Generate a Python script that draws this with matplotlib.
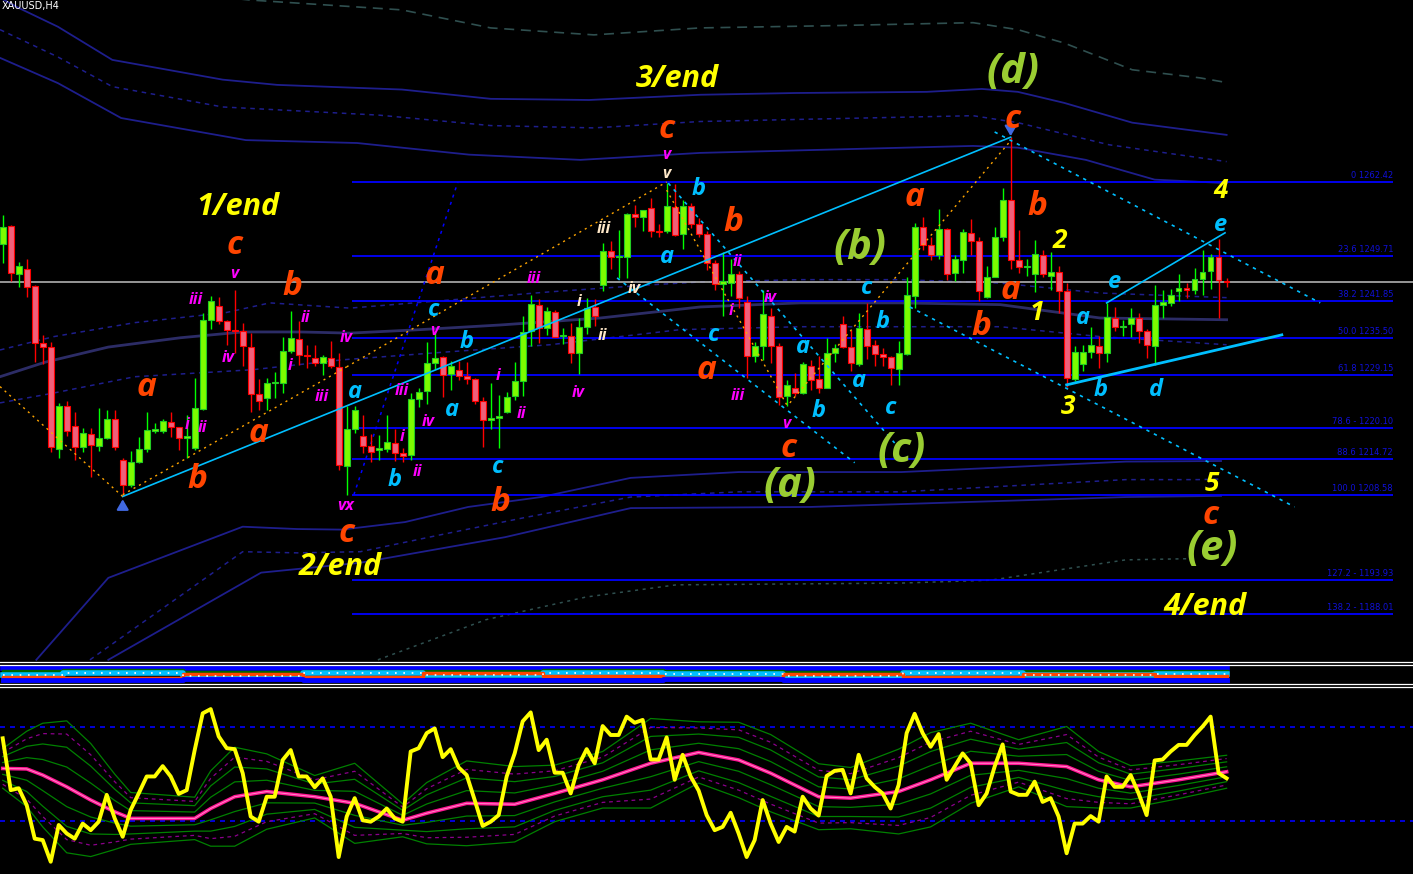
import matplotlib
matplotlib.use('Agg')
import matplotlib.pyplot as plt
import numpy as np
from matplotlib.lines import Line2D

# ---------------- data ----------------
opens = [1251.7,1254.9,1246.6,1247.4,1244.5,1234.7,1234.0,1216.5,1223.9,1220.5,
         1216.8,1219.0,1216.9,1218.3,1221.6,1214.6,1210.2,1214.3,1216.4,1219.6,
         1219.5,1221.1,1220.2,1218.3,1216.6,1223.3,1238.7,1241.1,1238.5,1236.8,
         1236.7,1234.0,1225.9,1225.2,1227.8,1227.9,1233.4,1235.4,1232.7,1232.2,
         1231.2,1232.1,1230.5,1213.6,1219.9,1218.7,1217.0,1216.3,1216.5,1217.5,
         1215.8,1215.5,1225.1,1226.4,1231.2,1232.3,1229.4,1230.1,1229.1,1228.5,
         1224.8,1221.4,1221.8,1222.9,1225.5,1228.1,1236.7,1241.2,1237.3,1240.0,
         1235.9,1235.9,1233.0,1237.4,1240.9,1244.6,1250.6,1249.5,1249.5,1256.9,
         1256.4,1257.9,1254.0,1253.9,1258.1,1253.4,1258.2,1255.1,1253.4,1248.4,
         1244.8,1245.1,1246.6,1241.7,1232.4,1234.1,1239.4,1234.2,1225.5,1226.9,
         1226.1,1230.8,1228.5,1227.0,1233.0,1237.9,1234.0,1231.1,1237.1,1234.3,
         1232.8,1232.3,1230.2,1232.8,1242.7,1254.6,1251.5,1249.8,1254.3,1246.7,
         1248.9,1253.6,1252.2,1242.6,1246.1,1253.0,1259.3,1248.9,1247.7,1246.5,
         1249.9,1246.3,1246.9,1243.6,1228.5,1231.1,1233.2,1234.2,1233.0,1239.0,
         1237.4,1237.9,1239.0,1236.7,1234.1,1241.2,1241.6,1243.6,1244.0,1243.9,
         1245.7,1247.0,1249.5,1245.3]
highs = [1256.7,1255.0,1248.7,1249.1,1244.7,1236.1,1234.8,1224.3,1224.8,1222.9,
         1220.0,1220.0,1223.5,1223.2,1223.2,1214.9,1216.2,1218.6,1222.9,1220.9,
         1221.6,1222.9,1220.3,1222.3,1228.6,1239.9,1242.7,1242.6,1238.7,1243.8,
         1238.1,1236.4,1228.5,1228.6,1229.7,1235.7,1240.2,1238.4,1234.3,1234.3,
         1232.7,1235.1,1232.9,1223.8,1223.8,1222.3,1219.1,1218.9,1222.3,1219.9,
         1216.6,1226.1,1226.9,1234.8,1236.7,1232.4,1231.6,1231.6,1231.5,1228.7,
         1225.4,1227.8,1225.8,1226.2,1231.5,1239.4,1243.0,1242.2,1240.9,1240.4,
         1237.3,1238.1,1239.0,1242.4,1242.2,1251.9,1252.2,1254.2,1257.0,1258.4,
         1257.6,1259.6,1255.1,1262.3,1262.1,1259.3,1258.8,1256.2,1253.9,1249.0,
         1250.4,1249.1,1247.0,1242.7,1234.8,1243.9,1240.7,1234.7,1228.3,1229.5,
         1231.5,1231.7,1232.5,1235.5,1234.6,1239.3,1237.0,1239.8,1241.6,1235.3,
         1233.8,1232.4,1235.1,1246.1,1255.3,1256.4,1253.0,1257.7,1254.5,1249.9,
         1254.3,1256.0,1253.0,1247.9,1254.6,1261.3,1270.1,1254.2,1249.1,1252.4,
         1250.7,1250.4,1248.0,1245.0,1234.2,1234.4,1237.4,1235.9,1241.6,1240.9,
         1238.7,1240.7,1239.8,1237.1,1244.7,1243.9,1244.0,1246.6,1245.1,1247.6,
         1250.7,1250.0,1252.6,1245.8]
lows = [1248.4,1245.3,1244.3,1242.6,1231.5,1231.1,1215.9,1215.0,1218.7,1214.6,
        1216.0,1211.7,1216.2,1218.2,1216.3,1208.3,1210.0,1214.0,1216.0,1219.2,
        1219.2,1218.6,1216.3,1215.0,1216.3,1223.1,1237.1,1238.0,1234.4,1232.9,
        1230.7,1222.9,1223.2,1223.2,1225.2,1226.1,1232.9,1230.9,1230.4,1230.7,
        1229.2,1230.4,1212.9,1208.6,1219.2,1215.8,1214.3,1214.5,1216.0,1214.4,
        1214.3,1214.6,1223.7,1224.2,1230.2,1225.4,1226.6,1228.3,1227.7,1224.2,
        1216.8,1219.9,1216.6,1222.6,1224.9,1225.6,1234.1,1234.7,1236.1,1235.7,
        1234.6,1231.2,1229.3,1236.3,1237.7,1243.7,1247.4,1245.9,1245.9,1254.7,
        1253.9,1252.9,1252.9,1253.7,1253.1,1250.8,1254.5,1253.0,1247.3,1243.9,
        1239.4,1242.7,1240.7,1228.7,1231.5,1231.8,1231.2,1224.1,1223.8,1225.5,
        1226.0,1226.6,1226.1,1226.9,1231.5,1233.8,1229.8,1230.7,1231.9,1230.7,
        1230.7,1227.4,1227.5,1232.7,1240.7,1250.7,1249.0,1249.1,1245.6,1245.3,
        1246.7,1249.8,1242.0,1242.5,1246.0,1252.2,1247.5,1246.7,1246.2,1243.4,
        1246.1,1243.9,1239.8,1227.2,1228.2,1229.8,1232.1,1230.4,1231.5,1236.7,
        1235.9,1235.7,1234.7,1232.1,1230.9,1239.0,1241.1,1242.0,1242.4,1243.2,
        1243.0,1244.0,1239.0,1244.4]
closes = [1254.7,1246.7,1248.0,1244.4,1234.7,1234.0,1216.8,1223.9,1219.6,1216.8,
          1219.2,1217.1,1218.4,1221.6,1216.8,1210.3,1214.2,1216.4,1219.8,1219.9,
          1221.3,1220.2,1218.3,1218.7,1223.5,1238.7,1241.9,1238.4,1237.0,1236.7,
          1234.1,1225.9,1224.7,1227.8,1227.9,1233.3,1235.5,1232.7,1232.5,1231.2,
          1232.3,1230.7,1213.7,1219.9,1223.2,1216.9,1216.0,1216.6,1217.6,1215.8,
          1215.2,1225.1,1226.2,1231.2,1232.1,1229.2,1230.8,1229.1,1228.5,1224.8,
          1221.5,1221.8,1222.2,1225.4,1228.2,1236.6,1241.4,1237.3,1240.2,1235.7,
          1236.0,1233.0,1237.4,1240.7,1239.3,1250.6,1249.5,1249.6,1256.9,1256.4,
          1257.6,1254.0,1253.8,1258.3,1253.3,1258.3,1255.2,1253.4,1248.4,1244.8,
          1245.3,1246.6,1242.4,1232.4,1234.1,1239.7,1234.1,1225.4,1227.5,1226.1,
          1231.1,1228.3,1226.9,1233.0,1233.8,1234.0,1231.3,1237.3,1234.1,1232.8,
          1232.3,1230.4,1233.0,1242.9,1254.6,1251.5,1249.9,1254.3,1246.5,1249.1,
          1253.8,1252.3,1243.7,1246.0,1253.0,1259.3,1248.9,1247.8,1247.9,1250.0,
          1246.5,1246.9,1243.6,1228.7,1233.2,1233.1,1234.3,1233.0,1239.1,1237.5,
          1237.7,1239.0,1236.7,1234.3,1241.2,1241.7,1242.9,1244.1,1243.9,1245.7,
          1246.9,1249.5,1245.6,1245.2]

bid_price = 1245.2

fib_prices = [1262.42, 1249.71, 1241.85, 1235.50, 1229.15, 1220.10, 1214.72, 1208.58, 1193.93, 1188.01]
fib_labels = ['0 1262.42', '23.6 1249.71', '38.2 1241.85', '50.0 1235.50', '61.8 1229.15',
              '78.6 - 1220.10', '88.6 1214.72', '100.0 1208.58', '127.2 - 1193.93', '138.2 - 1188.01']

# envelope bands: (candle index, price) vertices
band_u0_k = [18.4, 30.9, 49.9, 61.0, 73.9, 87.2, 104.2, 121.3, 126.9, 132.7, 141.2, 149.7, 153]
band_u0_p = [1295.4, 1293.7, 1292.0, 1288.9, 1287.7, 1288.9, 1289.3, 1289.8, 1288.6, 1286.3, 1281.7, 1280.3, 1279.5]
band_u1_k = [-0.34, 1.9, 6.9, 13.7, 27.5, 34.3, 49.9, 61.0, 73.3, 87.2, 99.0, 115.5, 122.4, 126.9, 132.7, 141.2, 153]
band_u1_p = [1294.1, 1292.4, 1289.1, 1283.4, 1280.0, 1279.1, 1278.3, 1276.7, 1276.5, 1277.4, 1277.7, 1277.9, 1278.4, 1277.9, 1276.0, 1272.6, 1270.5]
band_u2_k = [-0.34, 6.9, 13.7, 27.5, 47.0, 61.0, 73.9, 87.2, 121.3, 126.9, 138.3, 153]
band_u2_p = [1288.6, 1283.9, 1278.8, 1275.3, 1273.9, 1272.1, 1271.7, 1272.8, 1273.8, 1272.6, 1268.8, 1265.9]
band_u3_k = [-0.34, 6.9, 14.8, 30.4, 44.3, 58.3, 72.2, 87.2, 121.3, 126.9, 135.4, 144.0, 153]
band_u3_p = [1283.75, 1279.4, 1273.4, 1269.6, 1269.1, 1267.1, 1266.2, 1267.4, 1268.6, 1268.3, 1266.2, 1262.8, 1262.2]
band_mid_k = [-0.34, 5.3, 13.2, 22.2, 30.0, 37.2, 43.4, 52.2, 62.2, 74.7, 87.2, 99.7, 112.2, 124.7, 137.2, 153]
band_mid_p = [1228.9, 1231.4, 1234.0, 1235.6, 1236.6, 1236.6, 1236.4, 1237.0, 1237.8, 1239.0, 1240.9, 1241.6, 1241.6, 1241.3, 1239.0, 1238.7]
band_iu_k = [-0.34, 6.4, 16.5, 27.8, 33.4, 43.4, 55.9, 68.4, 80.9, 87.2, 99.7, 112.2, 124.7, 137.2, 153]
band_iu_p = [1233.5, 1235.8, 1238.2, 1239.9, 1241.6, 1240.7, 1242.1, 1243.5, 1244.7, 1245.2, 1245.6, 1245.6, 1245.0, 1243.3, 1242.5]
band_il_k = [-0.34, 6.4, 16.5, 31.2, 42.4, 55.9, 68.4, 84.7, 99.7, 124.7, 137.2, 153]
band_il_p = [1224.4, 1226.1, 1228.9, 1230.1, 1231.8, 1233.2, 1234.4, 1237.0, 1237.5, 1237.5, 1235.8, 1234.4]
band_l1_k = [4.2, 13.2, 30.0, 36.8, 42.4, 50.3, 58.2, 67.3, 78.5, 92.0, 112.3, 123.5, 140.4, 152.3]
band_l1_p = [1180.2, 1194.3, 1203.1, 1202.7, 1202.6, 1203.9, 1206.5, 1208.2, 1211.5, 1212.5, 1212.5, 1213.2, 1214.3, 1214.4]
band_l2_k = [10.9, 30.0, 36.8, 44.7, 54.7, 65.0, 78.5, 92.0, 112.3, 140.4, 149.4, 152.3]
band_l2_p = [1180.2, 1198.8, 1198.6, 1198.8, 1201.7, 1204.6, 1208.2, 1209.1, 1209.1, 1211.2, 1211.2, 1211.3]
band_l3_k = [13.2, 32.3, 44.7, 62.8, 78.5, 101.0, 140.4, 152.3]
band_l3_p = [1180.2, 1195.2, 1196.9, 1201.3, 1206.3, 1206.5, 1208.2, 1208.4]
band_l4_k = [46.9, 60.4, 72.9, 84.2, 112.3, 123.5, 140.4, 148.3]
band_l4_p = [1180.2, 1187.1, 1191.0, 1193.1, 1193.4, 1193.9, 1197.4, 1197.6]

# trend lines: ((k0, p0), (k1, p1))
cyan_solid = [((15, 1208.3), (126, 1270.1)), ((138.0, 1241.6), (152.8, 1253.65))]
cyan_thick = [((133.0, 1227.5), (159.9, 1236.1))]
cyan_dotted = [((124.0, 1271.0), (164.7, 1241.6)), ((113.4, 1240.9), (161.5, 1206.5)),
               ((83.2, 1262.2), (111.5, 1217.5)), ((76.8, 1245.9), (106.5, 1214.1))]
orange_dotted = [((-0.34, 1227.2), (15, 1208.3)), ((15, 1208.6), (43, 1230.6)),
                 ((43, 1230.6), (83, 1262.4)), ((83, 1261.0), (98, 1224.1)),
                 ((98.4, 1224.4), (126, 1269.5))]
blue_dotted = [((43.9, 1208.6), (56.9, 1262.4))]

# wave labels: (text, candle index, price)
yellow_big = [('1/end', 29.4, 1258.1), ('3/end', 84.3, 1280.1), ('2/end', 42.2, 1196.2), ('4/end', 150.3, 1189.3)]
yellow_digits = [('4', 152.2, 1261.0), ('2', 132.2, 1252.4), ('1', 129.3, 1240.0), ('3', 133.2, 1223.7), ('5', 151.2, 1210.5)]
green_labels = [('(d)', 126.3, 1281.2), ('(b)', 107.2, 1250.9), ('(a)', 98.4, 1210.0), ('(c)', 112.4, 1216.0), ('(e)', 151.2, 1199.1)]
orange_labels = [('c', 29.0, 1251.4), ('b', 36.2, 1244.4), ('a', 18.0, 1227.0), ('a', 32.0, 1219.2),
                 ('b', 24.3, 1211.2), ('c', 43.0, 1202.0), ('a', 54.0, 1246.3), ('b', 62.2, 1207.2),
                 ('c', 83.0, 1271.5), ('b', 91.3, 1255.5), ('a', 88.0, 1229.9), ('c', 98.2, 1216.5),
                 ('a', 114.0, 1259.7), ('c', 126.2, 1273.1), ('b', 129.3, 1258.1), ('a', 126.0, 1243.8),
                 ('b', 122.3, 1237.5), ('c', 151.0, 1205.1)]
sky_labels = [('c', 53.9, 1240.4), ('b', 58.0, 1234.9), ('a', 44.0, 1226.3), ('a', 56.2, 1223.2),
              ('b', 49.0, 1211.2), ('c', 61.9, 1213.4), ('a', 83.0, 1249.5), ('b', 87.0, 1261.2),
              ('c', 88.9, 1236.1), ('a', 100.0, 1234.0), ('b', 102.0, 1223.0), ('c', 108.0, 1244.2),
              ('b', 110.0, 1238.3), ('a', 107.0, 1228.2), ('c', 111.0, 1223.5), ('e', 139.0, 1245.2),
              ('a', 135.0, 1239.0), ('b', 137.2, 1226.6), ('d', 144.2, 1226.6), ('e', 152.2, 1255.0)]
magenta_labels = [('iii', 24.2, 1242.1), ('v', 29.0, 1246.6), ('ii', 37.9, 1239.0), ('iv', 28.2, 1232.1),
                  ('i', 23.0, 1220.6), ('ii', 25.0, 1220.1), ('iv', 43.0, 1235.6), ('i', 35.9, 1230.8),
                  ('iii', 39.9, 1225.4), ('iii', 66.4, 1245.7), ('v', 54.0, 1236.8), ('i', 61.9, 1229.0),
                  ('iii', 49.9, 1226.5), ('iv', 53.2, 1221.1), ('ii', 64.9, 1222.5), ('i', 49.9, 1218.6),
                  ('ii', 51.9, 1212.5), ('iv', 72.0, 1226.1), ('vx', 42.9, 1206.7), ('v', 83.0, 1267.1),
                  ('ii', 91.9, 1248.6), ('i', 91.0, 1240.2), ('iv', 95.9, 1242.5), ('iii', 91.9, 1225.6),
                  ('v', 98.0, 1220.8)]
cream_labels = [('v', 83.0, 1263.8), ('iii', 75.2, 1254.3), ('i', 72.0, 1241.8), ('ii', 75.0, 1235.9), ('iv', 79.0, 1244.0)]

# oscillator (lower panel)
osc = [75,-35,-31,-67,-138,-141,-187,-109,-127,-138,-106,-120,-102,-45,-95,-134,-77,-42,-6,-6,
       16,-6,-43,-35,50,128,137,79,54,52,1,-91,-102,-49,-49,29,50,-6,-6,-29,
       -10,-49,-177,-91,-52,-99,-102,-91,-74,-95,-102,47,54,86,96,35,52,13,-3,-56,
       -111,-102,-88,-6,43,111,130,50,72,2,2,-42,18,52,22,101,82,82,121,108,
       114,30,30,77,-13,40,-6,-36,-88,-120,-113,-83,-127,-177,-141,-56,-106,-145,-113,-123,
       -49,-74,-89,-5,6,8,-42,40,-10,-28,-42,-74,-24,86,127,86,57,84,-13,15,
       43,22,-67,-42,15,62,-38,-45,-45,-17,-60,-52,-91,-169,-106,-106,-90,-102,-6,-28,
       -28,-3,-42,-88,28,30,47,61,61,82,100,121,1,-10]
osc_levels = [100, -100]
sig_k = [0,3,5,8,11,14,16,24,26,29,33,39,44,50,53,58,64,69,75,81,87,92,96,102,106,112,116,121,127,133,137,141,147,153]
sig_v = [11,10,-3,-28,-56,-81,-95,-95,-74,-49,-38,-49,-63,-99,-84,-63,-65,-42,-13,22,45,29,1,-49,-52,-38,-13,22,22,15,-13,-28,-13,4]
sig_w = [42,80,110,140,120,80,55,45,80,105,80,45,85,35,65,90,80,60,60,95,65,80,82,70,65,90,100,85,50,85,60,45,40,35]
green_mult = [1.0, 0.6, 0.3]
purple_mult = [0.8]

# small strip panel
strip_k = [0, 15, 30, 45, 60, 75, 90, 105, 120, 135, 153]
strip_blue_top = [0.84, 0.86, 0.82, 0.84, 0.82, 0.85, 0.82, 0.83, 0.84, 0.82, 0.82]
strip_green = [0.66, 0.70, 0.62, 0.68, 0.64, 0.70, 0.65, 0.61, 0.68, 0.64, 0.64]
strip_cyan = [0.45, 0.55, 0.40, 0.58, 0.45, 0.55, 0.50, 0.40, 0.58, 0.45, 0.52]
strip_red = [0.35, 0.30, 0.50, 0.36, 0.55, 0.40, 0.30, 0.52, 0.36, 0.48, 0.40]
strip_blue_bot = [0.18, 0.15, 0.20, 0.16, 0.18, 0.15, 0.20, 0.16, 0.18, 0.16, 0.18]

# ---------------- drawing ----------------
W, H = 1413, 874
fig = plt.figure(figsize=(W / 100, H / 100), dpi=100, facecolor='black')

def band_axes(top, bottom):
    return fig.add_axes([0, 1 - bottom / H, 1, (bottom - top) / H])

ax = band_axes(0, 661)
ax_strip = band_axes(665, 683)
ax_osc = band_axes(686, 874)
XLIM = (-0.34, 176.3)
for a in (ax, ax_strip, ax_osc):
    a.set_facecolor('black')
    a.set_axis_off()
    a.set_xlim(*XLIM)
ax.set_ylim(1180.0, 1293.7)
ax_strip.set_ylim(0, 1)
ax_osc.set_ylim(-213, 186)

for yy in (662, 664.5, 684, 686.5):
    fig.add_artist(Line2D([0, 1], [1 - yy / H] * 2, color='white', lw=0.9, transform=fig.transFigure))

NAVY = '#1e1e8c'
ax.plot(band_u0_k, band_u0_p, color='#2f4f4f', lw=1.2, ls=(0, (6, 4)), zorder=1)
ax.plot(band_u1_k, band_u1_p, color=NAVY, lw=1.3, zorder=1)
ax.plot(band_u2_k, band_u2_p, color=NAVY, lw=1.1, ls=(0, (3, 3)), zorder=1)
ax.plot(band_u3_k, band_u3_p, color=NAVY, lw=1.3, zorder=1)
ax.plot(band_mid_k, band_mid_p, color='#2c2c66', lw=2.0, zorder=1)
ax.plot(band_iu_k, band_iu_p, color=NAVY, lw=1.1, ls=(0, (3, 3)), zorder=1)
ax.plot(band_il_k, band_il_p, color=NAVY, lw=1.1, ls=(0, (3, 3)), zorder=1)
ax.plot(band_l1_k, band_l1_p, color=NAVY, lw=1.3, zorder=1)
ax.plot(band_l2_k, band_l2_p, color=NAVY, lw=1.1, ls=(0, (3, 3)), zorder=1)
ax.plot(band_l3_k, band_l3_p, color=NAVY, lw=1.3, zorder=1)
ax.plot(band_l4_k, band_l4_p, color='#2f4f4f', lw=1.1, ls=(0, (2, 3)), zorder=1)

# fibonacci levels
ax.hlines(fib_prices, 43.7, 173.8, color='#0000ff', lw=1.3, zorder=2)
for p, lab in zip(fib_prices, fib_labels):
    ax.text(173.8, p + 0.35, lab, color='#1010d8', fontsize=6, ha='right', va='bottom',
            family='DejaVu Sans', zorder=2)

# bid line
ax.axhline(bid_price, color='#b0b0b0', lw=1.2, zorder=2)

# trend lines
for (k0, p0), (k1, p1) in cyan_solid:
    ax.plot([k0, k1], [p0, p1], color='#00bfff', lw=1.2, zorder=5)
for (k0, p0), (k1, p1) in cyan_thick:
    ax.plot([k0, k1], [p0, p1], color='#00bfff', lw=2.0, zorder=5)
for (k0, p0), (k1, p1) in cyan_dotted:
    ax.plot([k0, k1], [p0, p1], color='#00bfff', lw=1.2, ls=(0, (2, 3)), zorder=5)
for (k0, p0), (k1, p1) in orange_dotted:
    ax.plot([k0, k1], [p0, p1], color='#ffa500', lw=1.0, ls=(0, (1.5, 3)), zorder=5)
for (k0, p0), (k1, p1) in blue_dotted:
    ax.plot([k0, k1], [p0, p1], color='#0000ff', lw=1.1, ls=(0, (2, 3)), zorder=2)

# candles
o = np.array(opens); h = np.array(highs); l = np.array(lows); c = np.array(closes)
xk = np.arange(len(o))
up = c >= o
dn = ~up
ax.vlines(xk[up], l[up], h[up], color='#00ff00', lw=1.0, zorder=3)
ax.vlines(xk[dn], l[dn], h[dn], color='#ff0000', lw=1.0, zorder=3)
ax.bar(xk[up], np.maximum(c - o, 0.2)[up], bottom=o[up], width=0.72, color='#7cfc00',
       edgecolor='#22cc22', lw=0.8, zorder=4)
ax.bar(xk[dn], np.maximum(o - c, 0.2)[dn], bottom=c[dn], width=0.72, color='#f0607a',
       edgecolor='#ff0000', lw=0.8, zorder=4)

# arrows at the extremes
imin = int(np.argmin(l)); imax = int(np.argmax(h))
ax.annotate('', xy=(imin, l[imin]), xytext=(imin, l[imin] - 2.2),
            arrowprops=dict(arrowstyle='-|>,head_width=0.35,head_length=0.6', color='#4169e1', lw=1.6), zorder=6)
ax.annotate('', xy=(imax, h[imax] - 0.3), xytext=(imax, h[imax] + 2.4),
            arrowprops=dict(arrowstyle='-|>,head_width=0.35,head_length=0.6', color='#4169e1', lw=1.6), zorder=6)

# labels
FAM = ['Open Sans', 'DejaVu Sans']
def put(labels, color, size):
    for s, k, p in labels:
        ax.text(k, p, s, color=color, fontsize=size, family=FAM, fontweight='bold',
                fontstyle='italic', ha='center', va='center', zorder=7)

put(yellow_big, '#ffff00', 22)
put(yellow_digits, '#ffff00', 19)
put(green_labels, '#9acd32', 30)
put(orange_labels, '#ff4500', 24)
put(sky_labels, '#00bfff', 17)
put(magenta_labels, '#ff00ff', 11.5)
put(cream_labels, '#ffe8c8', 11.5)

fig.text(2 / W, 1 - 1 / H, 'XAUUSD,H4', color='white', fontsize=7, ha='left', va='top', family='DejaVu Sans')

# strip panel
ax_strip.step(strip_k, strip_blue_top, where='mid', color='#0000ff', lw=4)
ax_strip.step(strip_k, strip_green, where='mid', color='#006400', lw=2.5)
ax_strip.step(strip_k, strip_cyan, where='mid', color='#00bfff', lw=4)
ax_strip.step(strip_k, strip_red, where='mid', color='#ff4500', lw=2.5)
ax_strip.step(strip_k, strip_cyan, where='mid', color='white', lw=1.2, ls=(0, (1, 4)))
ax_strip.step(strip_k, strip_blue_bot, where='mid', color='#0000ff', lw=3.5)

# oscillator panel
for lv in osc_levels:
    ax_osc.axhline(lv, color='#0000ff', lw=1.2, ls=(0, (3, 3)))
sk = np.array(sig_k); sv = np.array(sig_v); sw = np.array(sig_w)
for m in green_mult:
    ax_osc.plot(sk, sv + m * sw, color='#008000', lw=0.9, zorder=2)
    ax_osc.plot(sk, sv - m * sw, color='#008000', lw=0.9, zorder=2)
for m in purple_mult:
    ax_osc.plot(sk, sv + m * sw, color='#8b008b', lw=0.9, ls=(0, (3, 3)), zorder=2)
    ax_osc.plot(sk, sv - m * sw, color='#8b008b', lw=0.9, ls=(0, (3, 3)), zorder=2)
ax_osc.plot(sk, sv, color='#ff1493', lw=2.6, zorder=3)
ax_osc.plot(sk, sv, color='#ff8cc8', lw=0.7, zorder=3)
ax_osc.plot(np.arange(len(osc)), osc, color='#ffff00', lw=2.8, zorder=4)

fig.savefig('out.png', dpi=100, facecolor='black')
